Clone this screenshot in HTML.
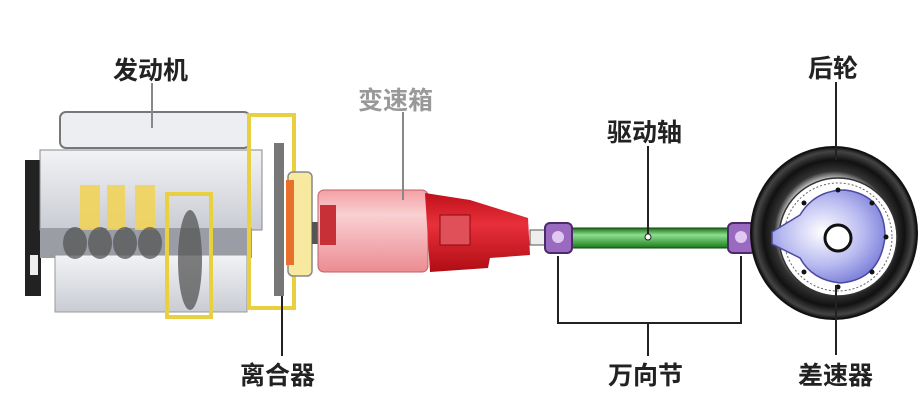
<!DOCTYPE html>
<html><head><meta charset="utf-8"><style>
html,body{margin:0;padding:0;background:#fff;}
svg{display:block}
text{font-family:"Liberation Sans","Noto Sans CJK SC","WenQuanYi Zen Hei",sans-serif;font-weight:bold;}
</style></head><body>
<svg width="924" height="414" viewBox="0 0 924 414" xmlns="http://www.w3.org/2000/svg">
<defs>
<linearGradient id="eng" x1="0" y1="0" x2="0" y2="1"><stop offset="0" stop-color="#f2f3f6"/><stop offset="1" stop-color="#c9ccd3"/></linearGradient>
<linearGradient id="pink" x1="0" y1="0" x2="0" y2="1"><stop offset="0" stop-color="#f4a0a4"/><stop offset=".3" stop-color="#f9d0d2"/><stop offset="1" stop-color="#ec8c92"/></linearGradient>
<linearGradient id="red" x1="0" y1="0" x2="0" y2="1"><stop offset="0" stop-color="#c0101a"/><stop offset=".4" stop-color="#e8303a"/><stop offset="1" stop-color="#b00c14"/></linearGradient>
<linearGradient id="grn" x1="0" y1="0" x2="0" y2="1"><stop offset="0" stop-color="#1a6a1a"/><stop offset=".35" stop-color="#8ee08e"/><stop offset="1" stop-color="#1a7a1a"/></linearGradient>
<radialGradient id="tire" cx=".5" cy=".5" r=".5"><stop offset=".6" stop-color="#fff"/><stop offset=".72" stop-color="#333"/><stop offset=".85" stop-color="#111"/><stop offset=".95" stop-color="#444"/><stop offset="1" stop-color="#111"/></radialGradient>
<radialGradient id="blue" cx=".45" cy=".45" r=".6"><stop offset="0" stop-color="#ffffff"/><stop offset=".6" stop-color="#b8baf0"/><stop offset="1" stop-color="#7a7ed8"/></radialGradient>
</defs>

<!-- engine -->
<rect x="25" y="160" width="16" height="136" fill="#222"/>
<rect x="30" y="255" width="8" height="20" fill="#eee"/>
<rect x="40" y="150" width="222" height="80" fill="url(#eng)" stroke="#888"/>
<rect x="40" y="228" width="212" height="30" fill="#9a9da5"/>
<rect x="55" y="255" width="192" height="57" fill="url(#eng)" stroke="#999"/>
<rect x="60" y="112" width="190" height="36" rx="6" fill="#eceef2" stroke="#777" stroke-width="2"/>
<g fill="#f1d35a" opacity=".9"><rect x="80" y="185" width="20" height="45"/><rect x="107" y="185" width="18" height="45"/><rect x="135" y="185" width="20" height="45"/></g>
<g fill="#555" opacity=".75"><ellipse cx="75" cy="243" rx="12" ry="16"/><ellipse cx="100" cy="243" rx="12" ry="16"/><ellipse cx="125" cy="243" rx="12" ry="16"/><ellipse cx="150" cy="243" rx="12" ry="16"/><ellipse cx="190" cy="260" rx="12" ry="50"/></g>
<rect x="167" y="194" width="44" height="123" fill="none" stroke="#e8d040" stroke-width="4"/>
<rect x="249" y="115" width="45" height="193" fill="none" stroke="#e8d040" stroke-width="4"/>
<rect x="274" y="143" width="10" height="153" fill="#777"/>
<rect x="288" y="172" width="24" height="104" rx="5" fill="#f7e9a0" stroke="#888" stroke-width="1.5"/>
<rect x="286" y="180" width="8" height="85" fill="#e8702a"/>

<!-- gearbox -->
<rect x="312" y="222" width="8" height="22" fill="#555"/>
<rect x="318" y="190" width="110" height="82" rx="6" fill="url(#pink)" stroke="#c06068"/>
<rect x="320" y="205" width="16" height="40" fill="#c83038"/>
<path d="M425 193 L470 200 L528 218 L530 255 L490 258 L488 268 L430 272 Z" fill="url(#red)"/>
<rect x="440" y="215" width="30" height="30" fill="#e05058" stroke="#8a0a10"/>
<rect x="530" y="230" width="16" height="15" fill="#eee" stroke="#555"/>

<!-- shaft -->
<rect x="572" y="228" width="156" height="20" fill="url(#grn)" stroke="#114411"/>
<rect x="755" y="229" width="20" height="15" fill="#fff" stroke="#555"/>
<g fill="#9a6ac0" stroke="#4a2a6a" stroke-width="2">
<rect x="545" y="223" width="27" height="30" rx="5"/><rect x="728" y="223" width="27" height="30" rx="5"/></g>
<circle cx="558" cy="237" r="6" fill="#e0c8f0"/><circle cx="741" cy="237" r="6" fill="#e0c8f0"/>

<!-- wheel -->
<ellipse cx="834" cy="233" rx="83" ry="86" fill="url(#tire)" stroke="#111" stroke-width="2"/>
<circle cx="838" cy="237" r="59" fill="#fff" stroke="#333" stroke-width="1.5"/>
<circle cx="838" cy="237" r="54" fill="none" stroke="#666" stroke-dasharray="2 2"/>
<path d="M772 232 L800 215 Q815 190 845 190 Q885 195 885 237 Q880 280 840 283 Q812 280 800 258 L772 244 Z" fill="url(#blue)" stroke="#4a4aa0" stroke-width="1.5"/>
<circle cx="838" cy="238" r="13" fill="#fff" stroke="#111" stroke-width="3"/>
<g fill="#111"><circle cx="838" cy="190" r="2.5"/><circle cx="838" cy="287" r="2.5"/><circle cx="804" cy="203" r="2.5"/><circle cx="872" cy="203" r="2.5"/><circle cx="804" cy="272" r="2.5"/><circle cx="872" cy="272" r="2.5"/><circle cx="886" cy="237" r="2.5"/></g>

<!-- leader lines -->
<g stroke="#222" stroke-width="2" fill="none">
<line x1="152" y1="83" x2="152" y2="128" stroke="#888"/>
<line x1="403" y1="112" x2="403" y2="200" stroke="#888"/>
<line x1="648" y1="146" x2="648" y2="237"/>
<line x1="836" y1="82" x2="836" y2="160"/>
<line x1="282" y1="296" x2="282" y2="356"/>
<polyline points="558,256 558,323 741,323 741,256"/>
<line x1="648" y1="323" x2="648" y2="356"/>
<line x1="836" y1="285" x2="836" y2="355"/>
</g>
<circle cx="648" cy="237" r="3" fill="#fff" stroke="#222"/>

<!-- labels -->
<g font-size="25" fill="#222">
<text x="113" y="79">发动机</text>
<text x="358" y="109" fill="#999" font-weight="normal">变速箱</text>
<text x="607" y="141">驱动轴</text>
<text x="808" y="77">后轮</text>
<text x="240" y="384">离合器</text>
<text x="608" y="384">万向节</text>
<text x="798" y="384">差速器</text>
</g>
</svg>
</body></html>
